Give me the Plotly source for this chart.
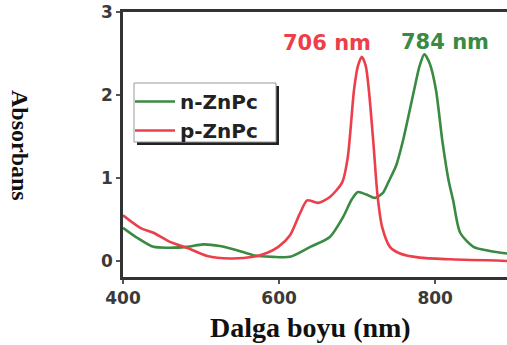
import plotly.graph_objects as go

# p-ZnPc (red)
p_wl = [400, 422, 439, 460, 482, 508, 537, 567, 585, 599, 614, 627, 636, 650, 665, 681, 688, 696, 701, 706,
        711, 715, 721, 726, 732, 742, 755, 780, 820, 892]
p_abs = [0.55, 0.40, 0.34, 0.23, 0.16, 0.06, 0.03, 0.05, 0.10, 0.17, 0.31, 0.58, 0.73, 0.70, 0.77, 0.95, 1.25,
         2.06, 2.35, 2.46, 2.35, 2.06, 1.40, 0.80, 0.41, 0.17, 0.09, 0.04, 0.02, 0.00]

# n-ZnPc (green)
n_wl = [400, 418, 439, 460, 482, 503, 524, 546, 567, 592, 614, 640, 665, 682, 693, 701, 712, 723, 733, 740,
        750, 759, 773, 780, 786, 793, 801, 809, 817, 823, 832, 849, 870, 892]
n_abs = [0.40, 0.28, 0.17, 0.16, 0.17, 0.20, 0.18, 0.13, 0.07, 0.05, 0.05, 0.17, 0.29, 0.53, 0.74, 0.83, 0.80,
         0.76, 0.82, 0.95, 1.15, 1.46, 2.06, 2.35, 2.49, 2.38, 2.06, 1.46, 0.98, 0.73, 0.34, 0.17, 0.12, 0.09]

series_names = ["n-ZnPc", "p-ZnPc"]
peak_labels = ["706 nm", "784 nm"]
x_ticks = [400, 600, 800]
y_ticks = [0, 1, 2, 3]
x_title = "Dalga boyu (nm)"
y_title = "Absorbans"

GREEN = "#3a8a42"
RED = "#ec3f4c"
SANS = "DejaVu Sans"
SERIF = "Liberation Serif"

W, H = 507, 345
L, R, T, B = 123, 0, 12, 68
pw, ph = W - L - R, H - T - B

def px(x):
    return (x - L) / pw

def py(y):
    return (H - B - y) / ph

fig = go.Figure()
fig.add_trace(go.Scatter(x=n_wl, y=n_abs, mode="lines", name=series_names[0],
                         line=dict(color=GREEN, width=2.6, shape="spline", smoothing=0.7)))
fig.add_trace(go.Scatter(x=p_wl, y=p_abs, mode="lines", name=series_names[1],
                         line=dict(color=RED, width=2.6, shape="spline", smoothing=0.7)))

axis_common = dict(showgrid=False, zeroline=False, showline=True, linecolor="#333", linewidth=2.5,
                   ticks="outside", ticklen=4, tickwidth=1.5, tickcolor="#555",
                   tickfont=dict(family=SANS, size=17, color="#3a3a3a", weight="bold"))

fig.update_xaxes(range=[400, 892], tickvals=x_ticks, mirror=True, **axis_common)
fig.update_yaxes(range=[-0.193, 3.0], tickvals=y_ticks, **axis_common)

# legend box with drop shadow
fig.add_shape(type="rect", xref="paper", yref="paper",
              x0=px(137), x1=px(279), y0=py(145), y1=py(86),
              fillcolor="#222", line=dict(width=0), layer="above")
fig.add_shape(type="rect", xref="paper", yref="paper",
              x0=px(134), x1=px(276), y0=py(142), y1=py(83),
              fillcolor="white", line=dict(width=1, color="#999"), layer="above")

fig.update_layout(
    width=W, height=H,
    margin=dict(l=L, r=R, t=T, b=B),
    paper_bgcolor="white", plot_bgcolor="white",
    showlegend=True,
    legend=dict(x=px(130), y=py(82), xanchor="left", yanchor="top",
                bgcolor="rgba(0,0,0,0)", borderwidth=0,
                font=dict(family=SANS, size=20, color="#222", weight="bold"),
                itemwidth=40, tracegroupgap=0),
    annotations=[
        dict(text=peak_labels[0], x=px(327), y=py(43), xref="paper", yref="paper",
             xanchor="center", yanchor="middle",
             showarrow=False, font=dict(family=SANS, size=21, color=RED, weight="bold")),
        dict(text=peak_labels[1], x=px(445), y=py(42), xref="paper", yref="paper",
             xanchor="center", yanchor="middle",
             showarrow=False, font=dict(family=SANS, size=21, color=GREEN, weight="bold")),
        dict(text=x_title, x=px(310), y=py(327), xref="paper", yref="paper",
             xanchor="center", yanchor="middle",
             showarrow=False, font=dict(family=SERIF, size=28, color="#111", weight="bold")),
        dict(text=y_title, x=px(20), y=py(145), xref="paper", yref="paper", textangle=90,
             xanchor="center", yanchor="middle",
             showarrow=False, font=dict(family=SERIF, size=24, color="#111", weight="bold")),
    ],
)

fig.write_html("out.html", config={"displayModeBar": False},
               post_script="document.body.style.margin='0';")
